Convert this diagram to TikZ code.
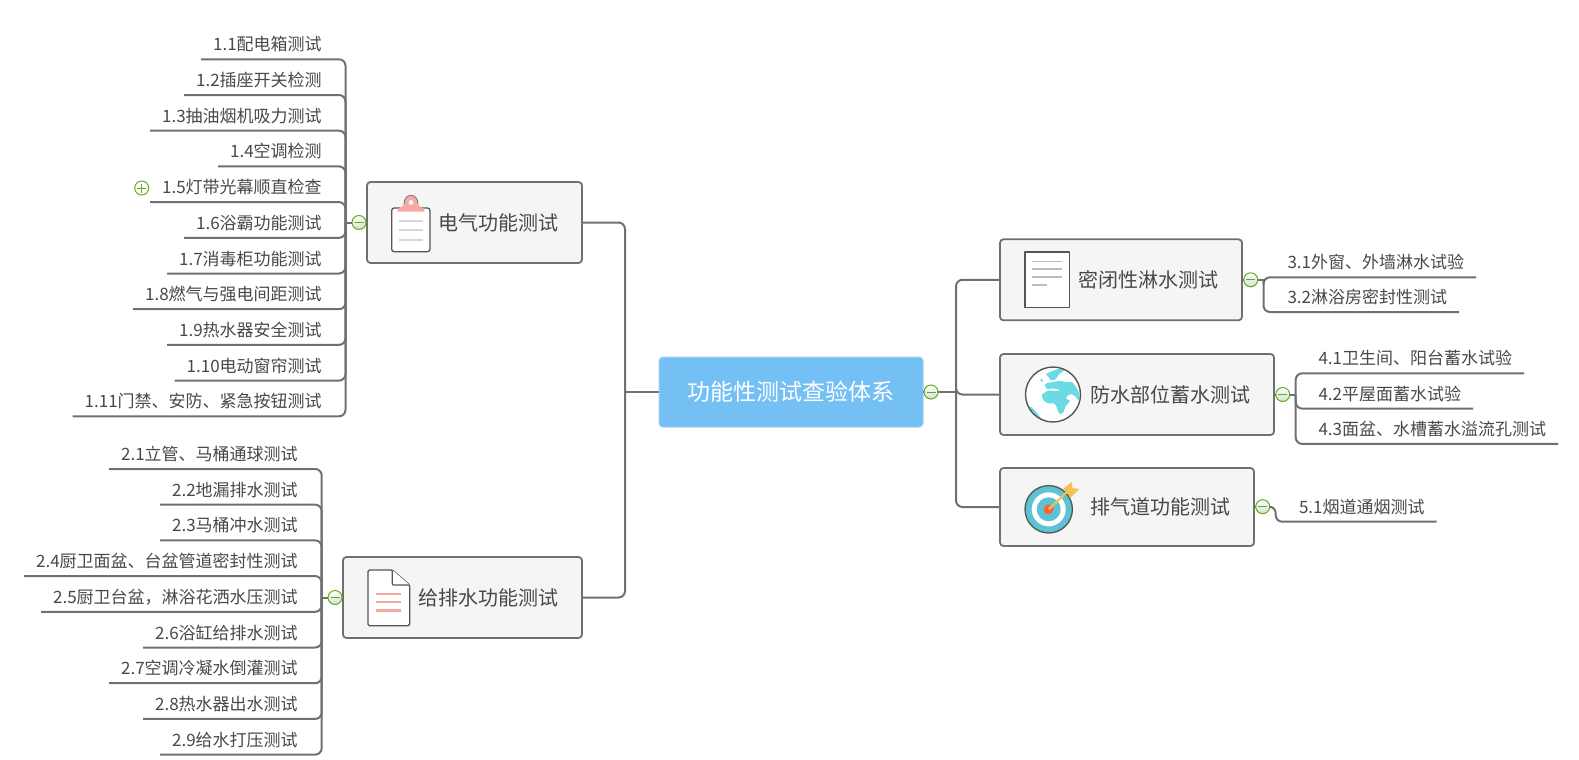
\documentclass[tikz,border=0pt]{standalone}
\usepackage{fontspec}
\setmainfont{Noto Sans CJK SC}
\usetikzlibrary{matrix}
\definecolor{linegray}{HTML}{707070}
\definecolor{textgray}{HTML}{484848}
\definecolor{boxfill}{HTML}{F5F5F5}
\definecolor{rootblue}{HTML}{74BFF4}
\definecolor{foldgreen}{HTML}{62AC1E}
\definecolor{iconpink}{HTML}{F6A8A7}
\definecolor{icongray}{HTML}{BDBDBD}
\definecolor{iconline}{HTML}{555555}
\definecolor{landcyan}{HTML}{6ADAE3}
\definecolor{targetteal}{HTML}{5BC3D3}
\definecolor{dartyellow}{HTML}{F5C252}
\tikzset{
	link/.style={draw=linegray, line width=2pt, rounded corners=6.5pt},
	leaf/.style={font=\fontsize{17}{20}\selectfont, text=textgray, inner xsep=12pt, inner ysep=0pt, outer sep=0pt, text height=27.2pt, text depth=8.5pt},
	leafgrid/.style={matrix of nodes, inner sep=0pt, outer sep=0pt, row sep=#1},
	leafgrid/.default=0pt,
	topic/.style={draw=linegray, line width=1.8pt, fill=boxfill, rounded corners=3.5pt, font=\fontsize{20}{24}\selectfont, text=textgray, inner xsep=24pt, inner ysep=0pt, outer sep=0pt, anchor=west},
	root/.style={draw=rootblue!70!white, line width=1pt, fill=rootblue, rounded corners=4pt, font=\fontsize{23}{27}\selectfont, text=white, minimum width=264pt, minimum height=70pt, outer sep=0pt},
	foldbase/.style={circle, draw=foldgreen, line width=1pt, top color=white, bottom color=green!25!gray!30, minimum size=14pt, inner sep=0pt, outer sep=0pt},
	foldminus/.style={foldbase, path picture={\draw[foldgreen, line width=1pt] (path picture bounding box.center) ++(-4.5pt,0) -- ++(9pt,0);}},
	foldplus/.style={foldbase, top color=white, bottom color=white, path picture={\draw[foldgreen, line width=1pt] (path picture bounding box.center) ++(-4.5pt,0) -- ++(9pt,0) (path picture bounding box.center) ++(0,-4.5pt) -- ++(0,9pt);}},
	iconbody/.style={draw=iconline, line width=1.3pt, fill=white, line join=round}
}
\begin{document}
\begin{tikzpicture}[x=1pt, y=-1pt]
	\useasboundingbox (0,0) rectangle (1579,760);

	\node[root] (center) at (791,392) {功能性测试查验体系};
	\node[topic, minimum height=81pt] (elec) at (367,222.5) {\hspace*{47pt}电气功能测试};
	\node[topic, minimum height=81pt] (drain) at (343,597.5) {\hspace*{51pt}给排水功能测试};
	\node[topic, minimum height=81pt] (seal) at (1000,279.8) {\hspace*{54pt}密闭性淋水测试};
	\node[topic, minimum height=81pt] (proof) at (1000,394.5) {\hspace*{66pt}防水部位蓄水测试};
	\node[topic, minimum height=78pt] (flue) at (1000,507) {\hspace*{66pt}排气道功能测试};

	\matrix (mela) [leafgrid, nodes={leaf, anchor=east}, anchor=north east] at (333.7,23.6)
	{
		1.1配电箱测试 \\
		1.2插座开关检测 \\
		1.3抽油烟机吸力测试 \\
		1.4空调检测 \\
		1.5灯带光幕顺直检查 \\
		1.6浴霸功能测试 \\
		1.7消毒柜功能测试 \\
		1.8燃气与强电间距测试 \\
		1.9热水器安全测试 \\
		1.10电动窗帘测试 \\
		1.11门禁、安防、紧急按钮测试 \\
	};
	\matrix (mdra) [leafgrid, nodes={leaf, anchor=east}, anchor=north east] at (309.7,433.3)
	{
		2.1立管、马桶通球测试 \\
		2.2地漏排水测试 \\
		2.3马桶冲水测试 \\
		2.4厨卫面盆、台盆管道密封性测试 \\
		2.5厨卫台盆，淋浴花洒水压测试 \\
		2.6浴缸给排水测试 \\
		2.7空调冷凝水倒灌测试 \\
		2.8热水器出水测试 \\
		2.9给水打压测试 \\
	};
	\matrix (msea) [leafgrid=-1pt, nodes={leaf, anchor=west}, anchor=north west] at (1275.5,241.6)
	{
		3.1外窗、外墙淋水试验 \\
		3.2淋浴房密封性测试 \\
	};
	\matrix (mpro) [leafgrid=-0.4pt, nodes={leaf, anchor=west}, anchor=north west] at (1306.5,337.6)
	{
		4.1卫生间、阳台蓄水试验 \\
		4.2平屋面蓄水试验 \\
		4.3面盆、水槽蓄水溢流孔测试 \\
	};
	\matrix (mflu) [leafgrid, nodes={leaf, anchor=west}, anchor=north west] at (1287,486)
	{
		5.1烟道通烟测试 \\
	};

	\node[foldminus] (fele) at (359,222.5) {};
	\node[foldminus] (fdra) at (335,597.5) {};
	\node[foldminus] (fsea) at (1250.7,279.8) {};
	\node[foldminus] (fpro) at (1282.7,394.5) {};
	\node[foldminus] (fflu) at (1262.7,506.7) {};
	\node[foldminus] (froot) at (931,392) {};
	\node[foldplus] (fmore) at (141.7,188) {};

	\coordinate (hubl) at (625,392);
	\coordinate (hubr) at (956,392);
	\coordinate (busa) at (345.5,222.5);
	\coordinate (busb) at (321.7,597.5);
	\coordinate (busc) at (1263.5,279.8);
	\coordinate (busd) at (1295.7,394.5);
	\coordinate (buse) at (1275.7,506.7);

	\draw[link] (center.west) -- (hubl);
	\draw[link] (hubl) |- (elec.east);
	\draw[link] (hubl) |- (drain.east);
	\draw[link, line width=2.6pt] (center.east) -- (froot.west) (froot.east) -- (hubr);
	\draw[link] (hubr) |- (seal.west);
	\draw[link] (hubr) |- (proof.west);
	\draw[link] (hubr) |- (flue.west);

	\draw[link] (fele.west) -- (busa);
	\draw[link] (fele.east) -- (elec.west);
	\draw[link] (fdra.west) -- (busb);
	\draw[link] (fdra.east) -- (drain.west);
	\draw[link] (fsea.west) -- (seal.east);
	\draw[link] (fpro.west) -- (proof.east);
	\draw[link] (fflu.west) -- (flue.east);
	\draw[link] (fsea.east) -- (busc);
	\draw[link] (fpro.east) -- (busd);

	\foreach \r in {1,...,11}
		\draw[link] (mela-\r-1.south west) -- (mela-\r-1.south -| busa) -- (busa);
	\foreach \r in {1,...,9}
		\draw[link] (mdra-\r-1.south west) -- (mdra-\r-1.south -| busb) -- (busb);
	\foreach \r in {1,2}
		\draw[link] (msea-\r-1.south east) -- (msea-\r-1.south -| busc) -- (busc);
	\foreach \r in {1,2,3}
		\draw[link] (mpro-\r-1.south east) -- (mpro-\r-1.south -| busd) -- (busd);
	\draw[link] (fflu.east) -- (buse) -- (mflu-1-1.south -| buse) -- (mflu-1-1.south east);

	\draw[iconbody, rounded corners=2.5pt] (391.7,208) rectangle (430,251.7);
	\fill[iconpink] (397.5,211.5) .. controls (396.5,207) and (403,208) .. (404,204) .. controls (404,192.5) and (418,192.5) .. (418,204) .. controls (419,208) and (425.5,207) .. (424.5,211.5) -- cycle;
	\draw[iconline!80, line width=0.8pt] (404,204) .. controls (404,192.5) and (418,192.5) .. (418,204);
	\fill[white!90!iconpink] (411,202.5) circle (2.4pt);
	\foreach \ly in {221,230,240}
		\draw[icongray!60, line width=1.6pt] (399,\ly) -- (423,\ly);

	\draw[iconbody, rounded corners=1.5pt] (368,570) -- (392.3,570) -- (409.7,585) -- (409.7,625.7) -- (368,625.7) -- cycle;
	\draw[iconbody, rounded corners=1pt] (392.3,570) -- (392.3,585) -- (409.7,585);
	\foreach \ly in {594,602,610.5}
		\draw[iconpink, line width=2.2pt] (376,\ly) -- (401,\ly);

	\draw[iconbody] (1025,252) rectangle (1069.7,307.7);
	\foreach \ly in {261.7,269,277}
		\draw[icongray, line width=1.4pt] (1032,\ly) -- (1062,\ly);
	\draw[icongray, line width=1.4pt] (1032,285) -- (1047,285);

	\begin{scope}
		\clip (1053,394.5) circle (27.5pt);
		\fill[white] (1053,394.5) circle (27.5pt);
		\begin{scope}[shift={(1015,360)}, x=0.3333pt, y=-0.3333pt, rounded corners=1pt]
			\fill[landcyan] (92,42) -- (115,32) -- (135,25) -- (150,30) -- (132,42) -- (122,58) -- (108,62) -- (100,50) -- cycle;
			\fill[landcyan] (76,57) -- (84,58) -- (84,65) -- (77,65) -- cycle;
			\fill[landcyan] (88,74) -- (100,68) -- (118,66) -- (132,62) -- (150,66) -- (172,66) -- (186,85) -- (194,105) -- (190,122) -- (180,108) -- (168,102) -- (158,106) -- (152,116) -- (166,122) -- (152,138) -- (144,160) -- (132,162) -- (124,138) -- (118,130) -- (98,130) -- (84,120) -- (80,104) -- (100,91) -- (128,93) -- (136,89) -- (112,85) -- (96,88) -- cycle;
			\fill[landcyan] (30,135) -- (50,142) -- (64,156) -- (78,175) -- (62,190) -- (30,170) -- cycle;
		\end{scope}
	\end{scope}
	\draw[draw=iconline, line width=1.4pt] (1053,394.5) circle (27.5pt);

	\fill[targetteal] (1048.7,509.3) circle (23.7pt);
	\draw[iconline, line width=1.3pt] (1048.7,509.3) circle (23.7pt);
	\fill[white] (1048.7,509.3) circle (17pt);
	\fill[targetteal] (1048.7,509.3) circle (12pt);
	\fill[red!55!orange!80!white] (1048.7,509.3) circle (5pt);
	\draw[dartyellow, line width=2pt] (1048.7,509.3) -- (1068,491);
	\fill[dartyellow] (1063,489) -- (1071.5,482) -- (1072.5,488) -- (1079.5,489) -- (1070,498) -- (1067.5,492.5) -- cycle;
\end{tikzpicture}
\end{document}
